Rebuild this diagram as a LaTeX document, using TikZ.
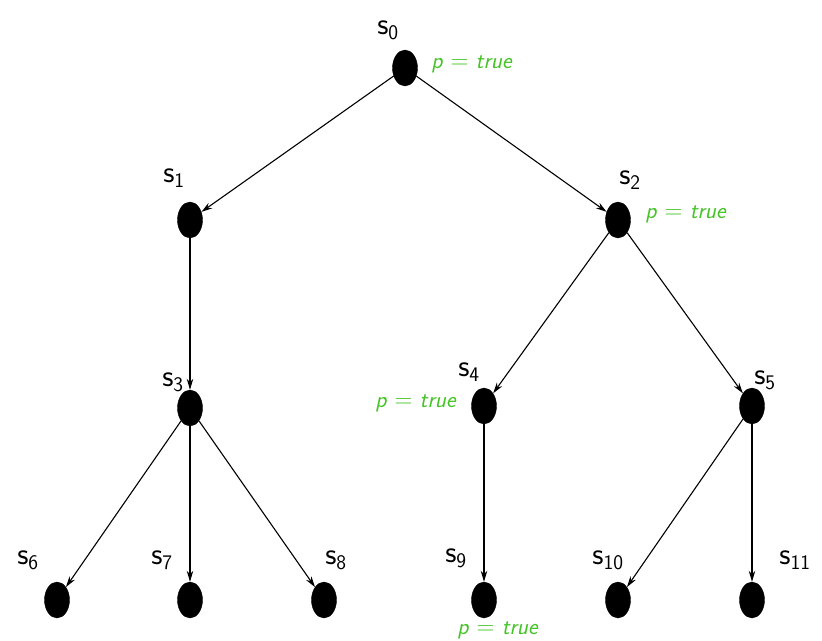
\documentclass[tikz,border=0pt]{standalone}
\usetikzlibrary{shapes.geometric,arrows.meta}
\definecolor{truegreen}{RGB}{70,195,40}
\newcommand{\stname}[1]{\textsf{s}$_{\mathsf{#1}}$}
\newcommand{\ptrue}{\textit{p} $=$ \textit{true}}
\begin{document}
\begin{tikzpicture}[x=1pt,y=-1pt,
  state/.style={ellipse,fill=black,draw=black,minimum width=25pt,minimum height=36pt,inner sep=0pt},
  slabel/.style={font=\fontsize{31}{33}\selectfont,inner sep=0pt},
  plabel/.style={font=\fontsize{23}{26}\selectfont\sffamily,text=truegreen,inner sep=0pt},
  arr/.style={-{Stealth[length=11pt,width=6.5pt]},line width=1.1pt}]
\useasboundingbox (0,0) rectangle (822,640);
% states
\node[state] (s0) at (405,68) {};
\node[state] (s1) at (190,220) {};
\node[state] (s2) at (618,220) {};
\node[state] (s3) at (190,408) {};
\node[state] (s4) at (484,406) {};
\node[state] (s5) at (752,406) {};
\node[state] (s6) at (57,600) {};
\node[state] (s7) at (190,600) {};
\node[state] (s8) at (324,600) {};
\node[state] (s9) at (484,600) {};
\node[state] (s10) at (618,600) {};
\node[state] (s11) at (752,600) {};
% state labels
\node[slabel] (l0) at (388,30) {\stname{0}};
\node[slabel] (l1) at (174,178) {\stname{1}};
\node[slabel] (l2) at (630,180) {\stname{2}};
\node[slabel] (l3) at (173,382) {\stname{3}};
\node[slabel] (l4) at (469,372) {\stname{4}};
\node[slabel] (l5) at (765,380) {\stname{5}};
\node[slabel] (l6) at (28,560) {\stname{6}};
\node[slabel] (l7) at (162,560) {\stname{7}};
\node[slabel] (l8) at (336,560) {\stname{8}};
\node[slabel] (l9) at (456,558) {\stname{9}};
\node[slabel] (l10) at (608,560) {\stname{10}};
\node[slabel] (l11) at (795,560) {\stname{11}};
% propositions
\node[plabel] (p0) at (472,64) {\ptrue};
\node[plabel] (p2) at (686,214) {\ptrue};
\node[plabel] (p4) at (416,403) {\ptrue};
\node[plabel] (p9) at (498,630) {\ptrue};
% transitions
\draw[arr] (s0) -- (s1);
\draw[arr] (s0) -- (s2);
\draw[arr] (s1) -- (s3);
\draw[arr] (s2) -- (s4);
\draw[arr] (s2) -- (s5);
\draw[arr] (s3) -- (s6);
\draw[arr] (s3) -- (s7);
\draw[arr] (s3) -- (s8);
\draw[arr] (s4) -- (s9);
\draw[arr] (s5) -- (s10);
\draw[arr] (s5) -- (s11);
\end{tikzpicture}
\end{document}
